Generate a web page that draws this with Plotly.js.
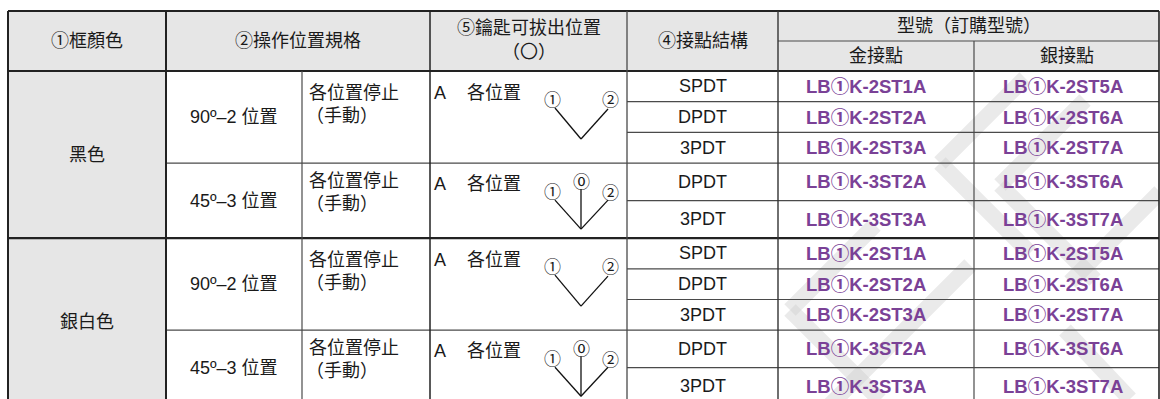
<!DOCTYPE html>
<html>
<head>
<meta charset="utf-8">
<script src="https://cdn.plot.ly/plotly-3.0.1.min.js"></script>
<style>
  html, body { margin: 0; padding: 0; background: #ffffff; }
  #chart { width: 1160px; height: 399px; }
</style>
</head>
<body>
<div id="chart"></div>
<script>
// ---------- DATA ----------
const headerLabels = ['①框顏色', '②操作位置規格', '⑤鑰匙可拔出位置', '（〇）', '④接點結構', '型號（訂購型號）', '金接點', '銀接點'];
const frameColors = ['黑色', '銀白色'];
const positionSpecs = ['90º–2 位置', '45º–3 位置'];
const stopModeLines = ['各位置停止', '（手動）'];
const keyRemovalLetter = 'A';
const keyRemovalText = '各位置';
const contacts90 = ['SPDT', 'DPDT', '3PDT'];
const contacts45 = ['DPDT', '3PDT'];
const goldModels90 = ['LB①K-2ST1A', 'LB①K-2ST2A', 'LB①K-2ST3A'];
const goldModels45 = ['LB①K-3ST2A', 'LB①K-3ST3A'];
const silverModels90 = ['LB①K-2ST5A', 'LB①K-2ST6A', 'LB①K-2ST7A'];
const silverModels45 = ['LB①K-3ST6A', 'LB①K-3ST7A'];
const positionMarks90 = ['①', '②'];
const positionMarks45 = ['①', '⓪', '②'];

// ---------- LAYOUT GEOMETRY ----------
const colX = [8, 166, 302, 430, 627, 778, 974, 1159];
const headTop = 11, headMid = 41, headBot = 71;
const rowH90 = 30.7, rowH45 = 37.5;
const FONT = 'Liberation Sans, Arial, Noto Sans CJK TC, sans-serif';
const MARK_FONT = 'Noto Sans CJK TC, DejaVu Sans, sans-serif';
const TXT = '#1a1a1a';
const PURPLE = '#7a4196';
const HEAD_BG = '#e6e6e6';
const DARK = '#222222';
const THIN = '#4a4a4a';
const WM = 'rgba(205,205,205,0.42)';

const shapes = [];
const ann = [];

function line(x0, y0, x1, y1, w, c, layer) {
  shapes.push({type: 'line', xref: 'x', yref: 'y', x0, y0, x1, y1, layer: layer || 'above',
    line: {color: c || THIN, width: w || 1}});
}
function rect(x0, y0, x1, y1, fill) {
  shapes.push({type: 'rect', xref: 'x', yref: 'y', x0, y0, x1, y1, layer: 'below',
    fillcolor: fill, line: {width: 0}});
}
function text(t, x, y, opts) {
  opts = opts || {};
  ann.push({xref: 'x', yref: 'y', x, y, text: t, showarrow: false,
    xanchor: opts.xanchor || 'center', yanchor: 'middle',
    font: {family: opts.family || FONT, size: opts.size || 18, color: opts.color || TXT, weight: opts.weight || 'normal'},
    borderpad: 0});
}

// header background
rect(colX[0], headTop, colX[7], headBot, HEAD_BG);

// faint watermark chevrons (background decoration)
[
  [[1025, 78], [940, 163], [1030, 253]],
  [[1085, 100], [1000, 185], [1095, 280]],
  [[875, 225], [790, 310], [880, 400]],
  [[830, 405], [970, 265]],
  [[1160, 192], [1070, 282]],
  [[1065, 330], [1130, 399]]
].forEach(pts => {
  for (let i = 0; i < pts.length - 1; i++) {
    line(pts[i][0], pts[i][1], pts[i + 1][0], pts[i + 1][1], 16, WM, 'below');
  }
});

// header texts
text(headerLabels[0], (colX[0] + colX[1]) / 2, 41);
text(headerLabels[1], (colX[1] + colX[3]) / 2, 41);
text(headerLabels[2], (colX[3] + colX[4]) / 2, 28);
text(headerLabels[3], (colX[3] + colX[4]) / 2, 52);
text(headerLabels[4], (colX[4] + colX[5]) / 2, 41);
text(headerLabels[5], (colX[5] + colX[7]) / 2, 26);
text(headerLabels[6], (colX[5] + colX[6]) / 2, 56);
text(headerLabels[7], (colX[6] + colX[7]) / 2, 56);

// body
let y = headBot;
const groupTops = [];
frameColors.forEach((fc, gi) => {
  const gTop = y;
  const subs = [
    {spec: positionSpecs[0], contacts: contacts90, gold: goldModels90, silver: silverModels90, h: rowH90, marks: positionMarks90, three: false},
    {spec: positionSpecs[1], contacts: contacts45, gold: goldModels45, silver: silverModels45, h: rowH45, marks: positionMarks45, three: true}
  ];
  subs.forEach((s, si) => {
    const sTop = y;
    const sBot = sTop + s.h * s.contacts.length;
    text(s.spec, (colX[1] + colX[2]) / 2, (sTop + sBot) / 2);
    const off = s.three ? 18 : 22;
    text(stopModeLines[0], colX[2] + 6, sTop + off, {xanchor: 'left'});
    text(stopModeLines[1], colX[2] + 3, sTop + off + 23, {xanchor: 'left'});
    const koff = s.three ? 21 : 22;
    text(keyRemovalLetter, colX[3] + 3, sTop + koff, {xanchor: 'left'});
    text(keyRemovalText, colX[3] + 36, sTop + koff, {xanchor: 'left'});
    const cx = 581;
    const vy = sTop + (s.three ? 66 : 68);
    const mk = {size: 17, family: MARK_FONT};
    if (!s.three) {
      text(s.marks[0], 552, sTop + 27, mk);
      text(s.marks[1], 610, sTop + 27, mk);
      line(555, sTop + 37, cx, vy, 1.3, '#111');
      line(608, sTop + 38, cx, vy, 1.3, '#111');
    } else {
      text(s.marks[0], 552, sTop + 27, mk);
      text(s.marks[1], cx, sTop + 17, mk);
      text(s.marks[2], 610, sTop + 28, mk);
      line(555, sTop + 37, cx, vy, 1.3, '#111');
      line(cx, sTop + 26, cx, vy, 1.3, '#111');
      line(608, sTop + 37, cx, vy, 1.3, '#111');
    }
    s.contacts.forEach((c, ri) => {
      const rTop = sTop + ri * s.h;
      const rMid = rTop + s.h / 2;
      text(c, (colX[4] + colX[5]) / 2, rMid);
      text(s.gold[ri], colX[5] + 27, rMid, {xanchor: 'left', color: PURPLE, weight: 'bold', size: 18.5});
      text(s.silver[ri], colX[6] + 28, rMid, {xanchor: 'left', color: PURPLE, weight: 'bold', size: 18.5});
      if (ri > 0) line(colX[4], rTop, colX[7], rTop, 1.2, THIN);
    });
    if (si > 0) line(colX[1], sTop, colX[7], sTop, 1.3, THIN);
    y = sBot;
  });
  rect(colX[0], gTop, colX[1], y, HEAD_BG);
  text(fc, (colX[0] + colX[1]) / 2, (gTop + y) / 2);
  groupTops.push(gTop);
});
const tableBottom = y;

line(colX[5], headMid, colX[7], headMid, 1.2, THIN);
line(colX[0], headBot, colX[7], headBot, 2.2, DARK);
line(colX[0], groupTops[1], colX[7], groupTops[1], 2.2, DARK);
line(colX[0], headTop, colX[7], headTop, 2, DARK);
line(colX[0], headTop, colX[0], tableBottom, 2, DARK);
line(colX[7], headTop, colX[7], tableBottom, 1.6, DARK);
line(colX[0], tableBottom, colX[7], tableBottom, 2, DARK);
line(colX[1], headTop, colX[1], tableBottom, 2, DARK);
line(colX[2], headBot, colX[2], tableBottom, 1.2, THIN);
line(colX[3], headTop, colX[3], tableBottom, 1.5, DARK);
line(colX[4], headTop, colX[4], tableBottom, 1.3, THIN);
line(colX[5], headTop, colX[5], tableBottom, 1.4, '#333');
line(colX[6], headMid, colX[6], tableBottom, 1.2, THIN);

const layout = {
  width: 1160, height: 399,
  margin: {l: 0, r: 0, t: 0, b: 0, pad: 0},
  paper_bgcolor: '#ffffff', plot_bgcolor: '#ffffff',
  xaxis: {range: [0, 1160], visible: false, fixedrange: true},
  yaxis: {range: [399, 0], visible: false, fixedrange: true},
  showlegend: false,
  shapes: shapes,
  annotations: ann
};

Plotly.newPlot('chart', [{x: [], y: [], type: 'scatter', mode: 'markers', hoverinfo: 'skip'}], layout,
  {displayModeBar: false, staticPlot: true});
</script>
</body>
</html>
